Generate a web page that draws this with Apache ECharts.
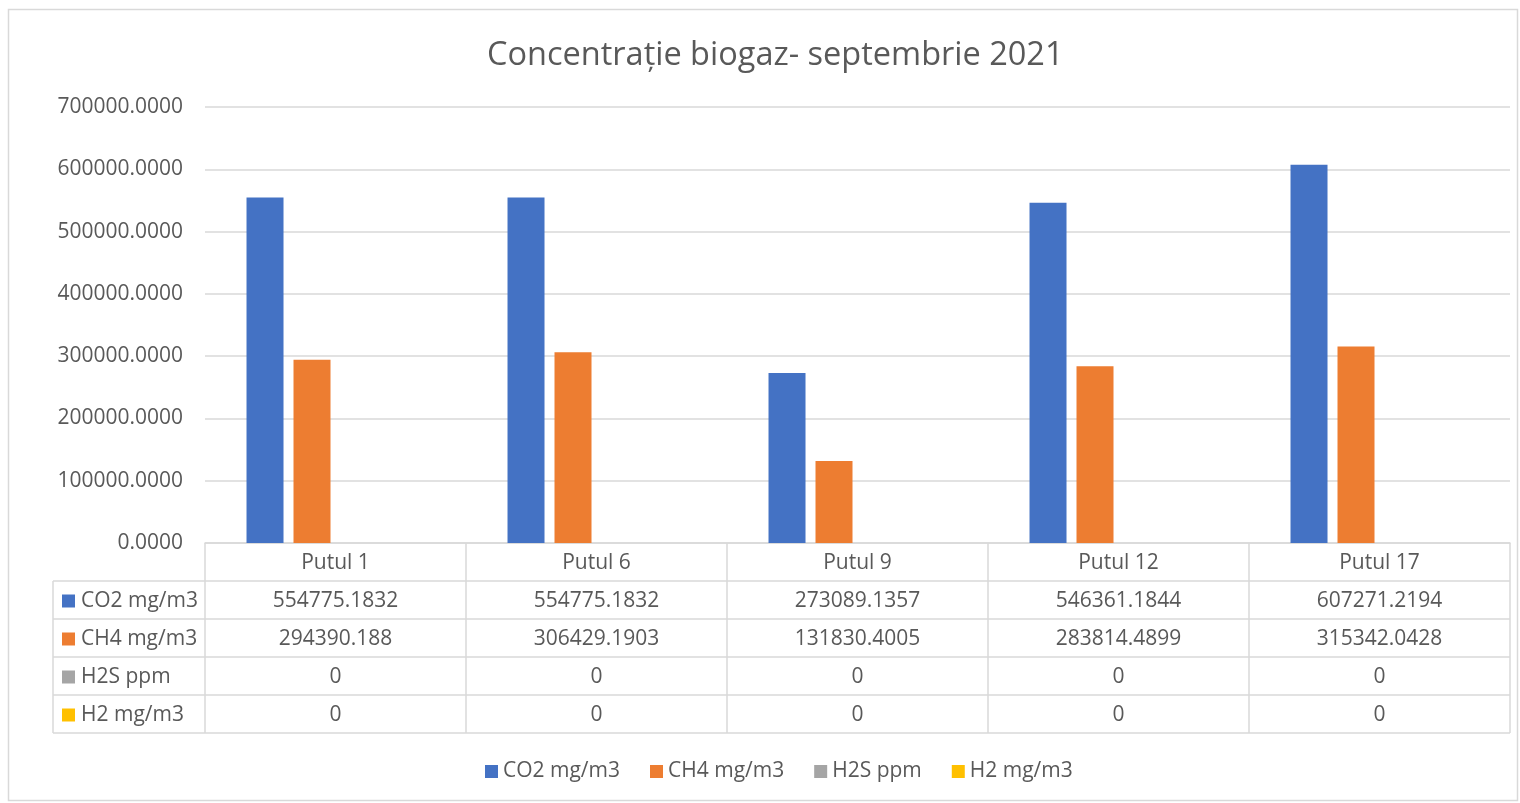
<!DOCTYPE html>
<html>
<head>
<meta charset="utf-8">
<script src="https://cdn.jsdelivr.net/npm/echarts@6/dist/echarts.min.js"></script>
<style>
html,body{margin:0;padding:0;background:#fff;}
#c{width:1520px;height:803px;}
</style>
</head>
<body>
<div id="c"></div>
<script>
const title = 'Concentrație biogaz- septembrie 2021';
const categories = ['Putul 1', 'Putul 6', 'Putul 9', 'Putul 12', 'Putul 17'];
const seriesNames = ['CO2 mg/m3', 'CH4 mg/m3', 'H2S ppm', 'H2 mg/m3'];
const co2 = [554775.1832, 554775.1832, 273089.1357, 546361.1844, 607271.2194];
const ch4 = [294390.188, 306429.1903, 131830.4005, 283814.4899, 315342.0428];
const h2s = [0, 0, 0, 0, 0];
const h2 = [0, 0, 0, 0, 0];
const colors = ['#4472C4', '#ED7D31', '#A5A5A5', '#FFC000'];
const yMin = 0, yMax = 700000, yStep = 100000;

const FONT = '"Open Sans", sans-serif';
const TXT = '#595959';
const LINE = '#d9d9d9';
const allData = [co2, ch4, h2s, h2];

const chart = echarts.init(document.getElementById('c'), null, {renderer: 'canvas'});
const gridL = 205, gridR = 10, gridT = 107, gridB = 260;

chart.setOption({
  animation: false,
  color: colors,
  textStyle: {fontFamily: FONT, color: TXT},
  title: {
    text: title, left: 482, top: 34,
    textStyle: {fontFamily: FONT, fontSize: 32.5, fontWeight: 'normal', color: TXT}
  },
  legend: {
    bottom: 16, left: 480, icon: 'rect', itemWidth: 13, itemHeight: 13, itemGap: 30,
    textStyle: {fontFamily: FONT, fontSize: 21, color: TXT},
    data: seriesNames
  },
  grid: {left: gridL, right: gridR, top: gridT, bottom: gridB, containLabel: false},
  xAxis: {
    type: 'category', data: categories,
    axisLine: {show: true, lineStyle: {color: LINE, width: 1.5}},
    axisTick: {show: true, length: 38, alignWithLabel: false, lineStyle: {color: LINE, width: 1.5}},
    axisLabel: {margin: 10, fontFamily: FONT, fontSize: 21, color: TXT}
  },
  yAxis: {
    type: 'value', min: yMin, max: yMax, interval: yStep,
    axisLine: {show: false}, axisTick: {show: false},
    splitLine: {lineStyle: {color: LINE, width: 1.5}},
    axisLabel: {margin: 22, fontFamily: FONT, fontSize: 21, color: TXT, padding: [4, 0, 0, 0],
      formatter: v => v.toFixed(4)}
  },
  series: seriesNames.map((n, i) => ({
    name: n, type: 'bar', data: allData[i], barWidth: 37, barGap: '27%',
    itemStyle: {color: colors[i]}
  }))
});

// Data table below the axis, built from the same arrays
function buildTable() {
  const rowH = 38;
  const top = chart.convertToPixel({yAxisIndex: 0}, 0);
  const c0 = chart.convertToPixel({xAxisIndex: 0}, 0);
  const c1 = chart.convertToPixel({xAxisIndex: 0}, 1);
  const cw = c1 - c0;
  const left = c0 - cw / 2;
  const right = left + cw * categories.length;
  const tblLeft = 53;
  const firstRow = top + rowH;
  const g = [];
  const ls = {stroke: LINE, lineWidth: 1.5};
  for (let r = 0; r <= seriesNames.length; r++) {
    const y = firstRow + r * rowH;
    g.push({type: 'line', shape: {x1: tblLeft, y1: y, x2: right, y2: y}, style: ls, silent: true});
  }
  const bottom = firstRow + seriesNames.length * rowH;
  g.push({type: 'line', shape: {x1: tblLeft, y1: firstRow, x2: tblLeft, y2: bottom}, style: ls});
  for (let c = 0; c <= categories.length; c++) {
    const x = left + c * cw;
    g.push({type: 'line', shape: {x1: x, y1: firstRow, x2: x, y2: bottom}, style: ls});
  }
  seriesNames.forEach((n, r) => {
    const yc = firstRow + r * rowH + rowH / 2 + 1;
    g.push({type: 'rect', shape: {x: 62, y: yc - 6.5, width: 13, height: 13}, style: {fill: colors[r]}});
    g.push({type: 'text', x: 81, y: yc, style: {text: n, font: '21px ' + FONT, fill: TXT, textVerticalAlign: 'middle', verticalAlign: 'middle'}});
    allData[r].forEach((v, c) => {
      const xc = chart.convertToPixel({xAxisIndex: 0}, c);
      g.push({type: 'text', x: xc, y: yc, style: {text: String(v), font: '21px ' + FONT, fill: TXT, align: 'center', textAlign: 'center', verticalAlign: 'middle', textVerticalAlign: 'middle'}});
    });
  });
  // outer chart border
  g.push({type: 'rect', shape: {x: 8.5, y: 9.5, width: 1509, height: 791}, style: {fill: null, stroke: LINE, lineWidth: 1.5}});
  chart.setOption({graphic: {elements: g}});
}
buildTable();
</script>
</body>
</html>
